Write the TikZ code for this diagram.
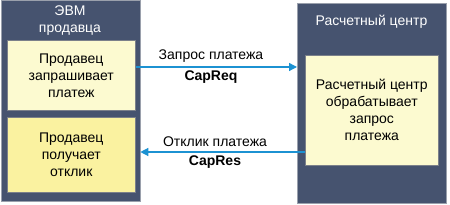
\documentclass[tikz,border=0pt]{standalone}
\usepackage{fontspec}
\setmainfont{Liberation Sans}
\usetikzlibrary{arrows.meta,positioning}

\definecolor{panelblue}{HTML}{46536F}
\definecolor{panelline}{HTML}{9AA0AC}
\definecolor{paleyellow}{HTML}{FCFAD0}
\definecolor{richyellow}{HTML}{FAF2A0}
\definecolor{arrowblue}{HTML}{1C92D2}

\begin{document}
\begin{tikzpicture}[
    x=1pt, y=-1pt,
    panel/.style={draw=panelline, fill=panelblue, line width=0.8pt,
                  inner sep=0pt, anchor=north west},
    stepbox/.style={draw=panelline!80!black, line width=0.6pt, align=center,
                    inner sep=0pt, anchor=north west, font=\fontsize{14}{17}\selectfont},
    title/.style={text=white, align=center, font=\fontsize{14}{17}\selectfont},
    msg/.style={align=center, font=\fontsize{14}{17}\selectfont},
    arr/.style={draw=arrowblue, line width=1.3pt, -{Triangle[length=8pt,width=8pt]}}
]
    \useasboundingbox (0,0) rectangle (450,205);

    % panels
    \node[panel, minimum width=139pt, minimum height=201pt] (evm) at (0.5,0.5) {};
    \node[title] (evmtitle) at (70,21) {ЭВМ\\продавца};

    \node[panel, minimum width=149pt, minimum height=200pt] (center) at (297,3.5) {};
    \node[title] (centertitle) at (371.5,22) {Расчетный центр};

    % steps
    \node[stepbox, fill=paleyellow, minimum width=128pt, minimum height=70pt] (req) at (7,40)
        {Продавец\\запрашивает\\платеж};
    \node[stepbox, fill=richyellow, minimum width=128pt, minimum height=75pt] (res) at (7,117)
        {Продавец\\получает\\отклик};
    \node[stepbox, fill=paleyellow, minimum width=133pt, minimum height=110pt] (proc) at (305,55)
        {Расчетный центр\\обрабатывает\\запрос\\платежа};

    % messages
    \draw[arr] (req.east |- 0,67) -- (center.west |- 0,67);
    \node[msg] (reqlbl) at (211,66.5) {Запрос платежа\\[4pt]\textbf{CapReq}};

    \draw[arr] (proc.west |- 0,152) -- (evm.east |- 0,152);
    \node[msg] (reslbl) at (215,152.5) {Отклик платежа\\[2pt]\textbf{CapRes}};
\end{tikzpicture}
\end{document}
